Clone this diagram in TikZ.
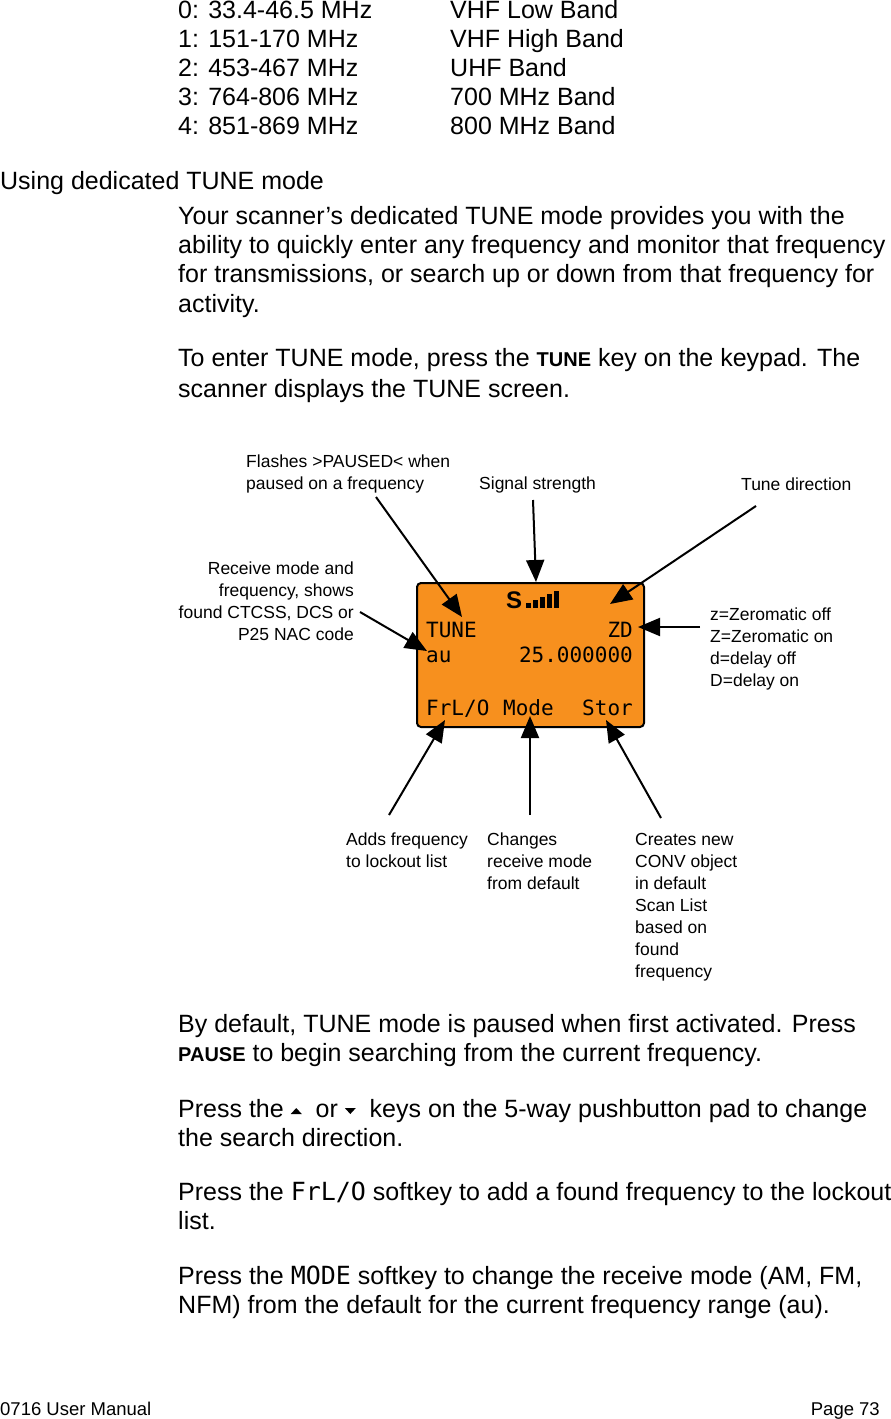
\documentclass[tikz,border=0pt]{standalone}
\usepackage{fontspec}
\setmainfont{Liberation Sans}
\newfontfamily\lcdfont{DejaVu Sans Mono}
\usetikzlibrary{arrows.meta}
\definecolor{lcd}{HTML}{F7901E}
\tikzset{
 body/.style={anchor=base west,inner sep=0,font=\fontsize{25}{25}\selectfont},
 lab/.style={anchor=base west,inner sep=0,font=\fontsize{17.5}{17.5}\selectfont},
 labr/.style={anchor=base east,inner sep=0,font=\fontsize{17.5}{17.5}\selectfont},
 lcdt/.style={inner sep=0,font=\fontsize{21}{21}\lcdfont},
 pt/.style={line width=2pt,-{Triangle[length=22pt,width=18pt]}},
}
\begin{document}
\begin{tikzpicture}[x=1pt,y=-1pt]
\useasboundingbox (0,0) rectangle (891,1419);
% band table
\foreach \i/\a/\b in {0/{0: 33.4-46.5 MHz}/VHF Low Band,1/{1: 151-170 MHz}/VHF High Band,2/{2: 453-467 MHz}/UHF Band,3/{3: 764-806 MHz}/700 MHz Band,4/{4: 851-869 MHz}/800 MHz Band}{
 \node[body] (ta\i) at (178,{18+29*\i}) {\a};
 \node[body] (tb\i) at (450,{18+29*\i}) {\b};
}
\node[body] (head) at (0,189) {Using dedicated TUNE mode};
\node[body] (p1) at (178,224) {Your scanner’s dedicated TUNE mode provides you with the};
\node[body] (p2) at (178,253) {ability to quickly enter any frequency and monitor that frequency};
\node[body] (p3) at (178,282) {for transmissions, or search up or down from that frequency for};
\node[body] (p4) at (178,312) {activity.};
\node[body] (p5) at (178,366) {To enter TUNE mode, press the \textbf{\fontsize{20}{20}\selectfont TUNE} key on the keypad. The};
\node[body] (p6) at (178,397) {scanner displays the TUNE screen.};
% LCD
\node[draw,line width=2pt,fill=lcd,rounded corners=4pt,minimum width=227pt,minimum height=144pt,anchor=north west] (lcdbox) at (416,582) {};
\node[inner sep=0,anchor=base west,font=\fontsize{24}{24}\selectfont\bfseries] (s) at (506,608) {S};
\foreach \k/\h in {0/5,1/8,2/11,3/14,4/17}{\fill (526+\k*7,608) rectangle ++(5,-\h);}
\node[lcdt,anchor=base west] (tune) at (426,637) {TUNE};
\node[lcdt,anchor=base east] (zd) at (633,637) {ZD};
\node[lcdt,anchor=base west] (au) at (426,662) {au};
\node[lcdt,anchor=base east] (freq) at (633,662) {25.000000};
\node[lcdt,anchor=base west] (fr) at (426,715) {FrL/O};
\node[lcdt,anchor=base west] (mode) at (503,715) {Mode};
\node[lcdt,anchor=base east] (stor) at (633,715) {Stor};
% labels
\node[lab] (l1a) at (246,467) {Flashes >PAUSED< when};
\node[lab] (l1b) at (246,489) {paused on a frequency};
\node[lab] (l2) at (479,489) {Signal strength};
\node[lab] (l3) at (741,490) {Tune direction};
\node[labr] (l4a) at (354,574) {Receive mode and};
\node[labr] (l4b) at (354,596) {frequency, shows};
\node[labr] (l4c) at (354,618) {found CTCSS, DCS or};
\node[labr] (l4d) at (354,640) {P25 NAC code};
\foreach \t [count=\i] in {z=Zeromatic off,Z=Zeromatic on,d=delay off,D=delay on}{\node[lab] (r\i) at (710,{598+22*\i}) {\t};}
\node[lab] (b1a) at (346,845) {Adds frequency};
\node[lab] (b1b) at (346,867) {to lockout list};
\foreach \t [count=\i] in {Changes,receive mode,from default}{\node[lab] (m\i) at (487,{823+22*\i}) {\t};}
\foreach \t [count=\i] in {Creates new,CONV object,in default,Scan List,based on,found,frequency}{\node[lab] (c\i) at (635,{823+22*\i}) {\t};}
% arrows
\coordinate (a1s) at (376,497); \coordinate (a1e) at (462,617);
\coordinate (a2s) at (533,500); \coordinate (a2e) at (536,582);
\coordinate (a3s) at (756,506); \coordinate (a3e) at (610,604);
\coordinate (a4s) at (360,612); \coordinate (a4e) at (427,651);
\coordinate (a5s) at (700,627); \coordinate (a5e) at (638,627);
\coordinate (a6s) at (389,815); \coordinate (a6e) at (445,720);
\coordinate (a7s) at (530,815); \coordinate (a7e) at (530,716);
\coordinate (a8s) at (661,818); \coordinate (a8e) at (606,720);
\foreach \n in {1,...,8}{\draw[pt] (a\n s) -- (a\n e);}
% after text
\node[body] (q1) at (178,1032) {By default, TUNE mode is paused when first activated. Press};
\node[body] (q2) at (178,1061) {\textbf{\fontsize{20}{20}\selectfont PAUSE} to begin searching from the current frequency.};
\node[body] (q3) at (178,1117) {Press the \tikz[baseline=-3pt]\fill (0,0)--(11pt,0)--(5.5pt,6pt)--cycle; \ or \tikz[baseline=-3pt]\fill (0,6pt)--(11pt,6pt)--(5.5pt,0)--cycle; \ keys on the 5-way pushbutton pad to change};
\node[body] (q4) at (178,1146) {the search direction.};
\node[body] (q5) at (178,1200) {Press the {\lcdfont FrL/O} softkey to add a found frequency to the lockout};
\node[body] (q6) at (178,1229) {list.};
\node[body] (q7) at (178,1284) {Press the {\lcdfont MODE} softkey to change the receive mode (AM, FM,};
\node[body] (q8) at (178,1313) {NFM) from the default for the current frequency range (au).};
\node[lab,font=\fontsize{18.5}{18.5}\selectfont] (f1) at (0,1415) {0716 User Manual};
\node[labr,font=\fontsize{18.5}{18.5}\selectfont] (f2) at (880,1415) {Page 73};
\end{tikzpicture}
\end{document}
